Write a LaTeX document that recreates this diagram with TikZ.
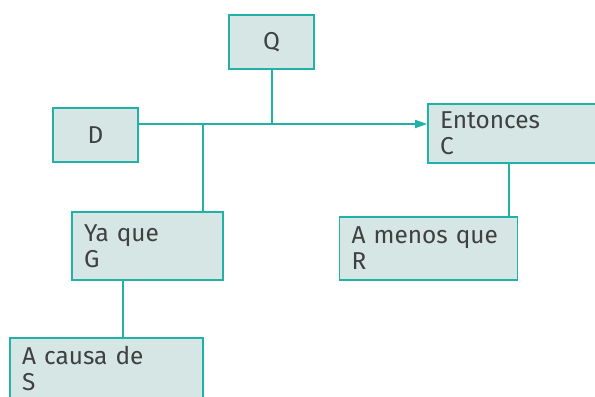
\documentclass[tikz,border=0pt]{standalone}
\usepackage{fontspec}
\setmainfont{Fira Sans}
\usetikzlibrary{arrows.meta}

\definecolor{lineteal}{RGB}{32,178,166}
\definecolor{boxfill}{RGB}{213,230,228}
\definecolor{textgray}{RGB}{64,64,64}

\tikzset{
  argbox/.style={draw=lineteal, fill=boxfill, line width=1.2pt, text=textgray,
    font=\fontsize{18.3}{19.5}\selectfont, inner xsep=9pt, inner ysep=0pt},
  wordbox/.style={argbox, align=left},
  link/.style={draw=lineteal, line width=1.1pt}
}

\begin{document}
\begin{tikzpicture}[x=0.75pt,y=0.75pt,yscale=-1,xscale=1]
    \useasboundingbox (0,0) rectangle (595,396);

    % Boxes
    \node [argbox, minimum width=63.75pt, minimum height=40.5pt] (Q) at (271.5,42) {Q};
    \node [argbox, minimum width=63.75pt, minimum height=40.5pt] (D) at (95.5,135) {D};
    \node [wordbox, text width=111pt, minimum height=44.25pt] (C) at (514,133.5) {Entonces\\C};
    \node [wordbox, text width=115.5pt, minimum height=47.25pt] (R) at (428.5,248.5) {A menos que\\R};
    \node [wordbox, text width=95.25pt, minimum height=51pt] (G) at (147.5,246) {Ya que\\G};
    \node [wordbox, text width=126.75pt, minimum height=45pt] (S) at (106.5,368) {A causa de\\S};

    % Junctions
    \coordinate (trunk) at (203,124);
    \coordinate (qfoot) at (272,124);
    \coordinate (gdrop) at (123,280);
    \coordinate (cdrop) at (509,163);

    % Connectors
    \draw [link, -{Triangle[length=9pt,width=6pt]}] (D.east |- trunk) -- (C.west |- trunk);
    \draw [link] (qfoot |- Q.south) -- (qfoot);
    \draw [link] (trunk) -- (trunk |- G.north);
    \draw [link] (gdrop |- G.south) -- (gdrop |- S.north);
    \draw [link] (cdrop |- C.south) -- (cdrop |- R.north);

\end{tikzpicture}
\end{document}
